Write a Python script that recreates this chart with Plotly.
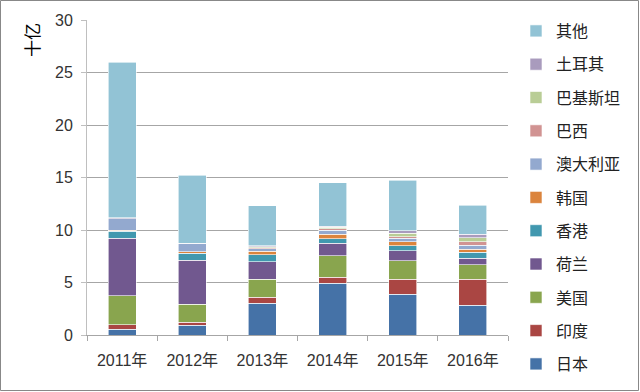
import plotly.graph_objects as go

years = ["2011年", "2012年", "2013年", "2014年", "2015年", "2016年"]
series_names = ["日本", "印度", "美国", "荷兰", "香港", "韩国", "澳大利亚", "巴西", "巴基斯坦", "土耳其", "其他"]

japan     = [0.54, 0.95, 3.02, 4.92, 3.90, 2.83]
india     = [0.44, 0.26, 0.57, 0.57, 1.40, 2.47]
usa       = [2.76, 1.71, 1.71, 2.06, 1.78, 1.40]
nether    = [5.46, 4.22, 1.68, 1.18, 0.95, 0.63]
hongkong  = [0.70, 0.64, 0.64, 0.44, 0.47, 0.54]
korea     = [0.10, 0.16, 0.38, 0.42, 0.39, 0.29]
australia = [1.05, 0.73, 0.22, 0.41, 0.32, 0.41]
brazil    = [0.02, 0.02, 0.10, 0.13, 0.15, 0.32]
pakistan  = [0.02, 0.02, 0.08, 0.13, 0.32, 0.35]
turkey    = [0.10, 0.05, 0.08, 0.12, 0.25, 0.35]
others    = [14.81, 6.44, 3.83, 4.12, 4.83, 2.79]

series_values = [japan, india, usa, nether, hongkong, korea, australia, brazil, pakistan, turkey, others]
colors = ["#4572A7", "#AA4643", "#89A54E", "#71588F", "#4198AF", "#DB843D",
          "#93A9CF", "#D19392", "#B9CD96", "#A99BBD", "#92C3D5"]

W, H = 640, 392
ML, MR, MT, MB = 87, 132, 20, 57
pw = W - ML - MR
ph = H - MT - MB

fig = go.Figure()
n = len(series_names)
for i, (name, vals, col) in enumerate(zip(series_names, series_values, colors)):
    fig.add_trace(go.Bar(
        x=years, y=vals, name=name, legendgroup=name, legendrank=n - i,
        marker=dict(color=col, line=dict(color="rgba(255,255,255,0.75)", width=0.8)),
    ))

font_main = "Liberation Sans, Noto Sans CJK SC, sans-serif"
fig.update_layout(
    width=W, height=H,
    barmode="stack", bargap=0.6,
    margin=dict(l=ML, r=MR, t=MT, b=MB, autoexpand=False),
    paper_bgcolor="white", plot_bgcolor="white",
    font=dict(family=font_main, size=16, color="#333333"),
    showlegend=True,
    legend=dict(
        traceorder="grouped", tracegroupgap=9.5, maxheight=1.0,
        x=(516 - ML) / pw, xanchor="left", y=1 + 6 / ph, yanchor="top",
        font=dict(family="Noto Sans CJK SC, sans-serif", size=16, color="#222222"),
        bgcolor="rgba(0,0,0,0)", itemwidth=30,
    ),
    xaxis=dict(
        type="category", tickson="boundaries", ticks="outside", ticklen=5,
        tickcolor="#a6a6a6", showline=True, linecolor="#a6a6a6", linewidth=1,
        showgrid=False, ticklabelstandoff=11,
        tickfont=dict(family=font_main, size=16, color="#333333"),
    ),
    yaxis=dict(
        range=[0, 30], dtick=5, ticks="outside", ticklen=5, tickcolor="#bfbfbf",
        showline=True, linecolor="#bfbfbf", linewidth=1, ticklabelstandoff=5,
        showgrid=True, gridcolor="#a6a6a6", gridwidth=1, zeroline=False,
        tickfont=dict(family=font_main, size=16, color="#333333"),
    ),
    annotations=[dict(
        text="十亿", textangle=-90, showarrow=False,
        xref="paper", yref="paper",
        x=(31 - ML) / pw, y=1 - (40 - MT) / ph, xanchor="center", yanchor="middle",
        font=dict(family="Noto Sans CJK SC, serif", size=17, color="#000000"),
    )],
    shapes=[dict(
        type="rect", xref="paper", yref="paper",
        x0=-(ML - 0.5) / pw, x1=1 + (MR - 1.5) / pw,
        y0=-(MB - 1.5) / ph, y1=1 + (MT - 0.5) / ph,
        line=dict(color="#888888", width=1), fillcolor="rgba(0,0,0,0)",
    )],
)

fig.write_html("out.html", config={"displayModeBar": False},
               post_script="document.body.style.margin='0';document.body.style.overflow='hidden';")
